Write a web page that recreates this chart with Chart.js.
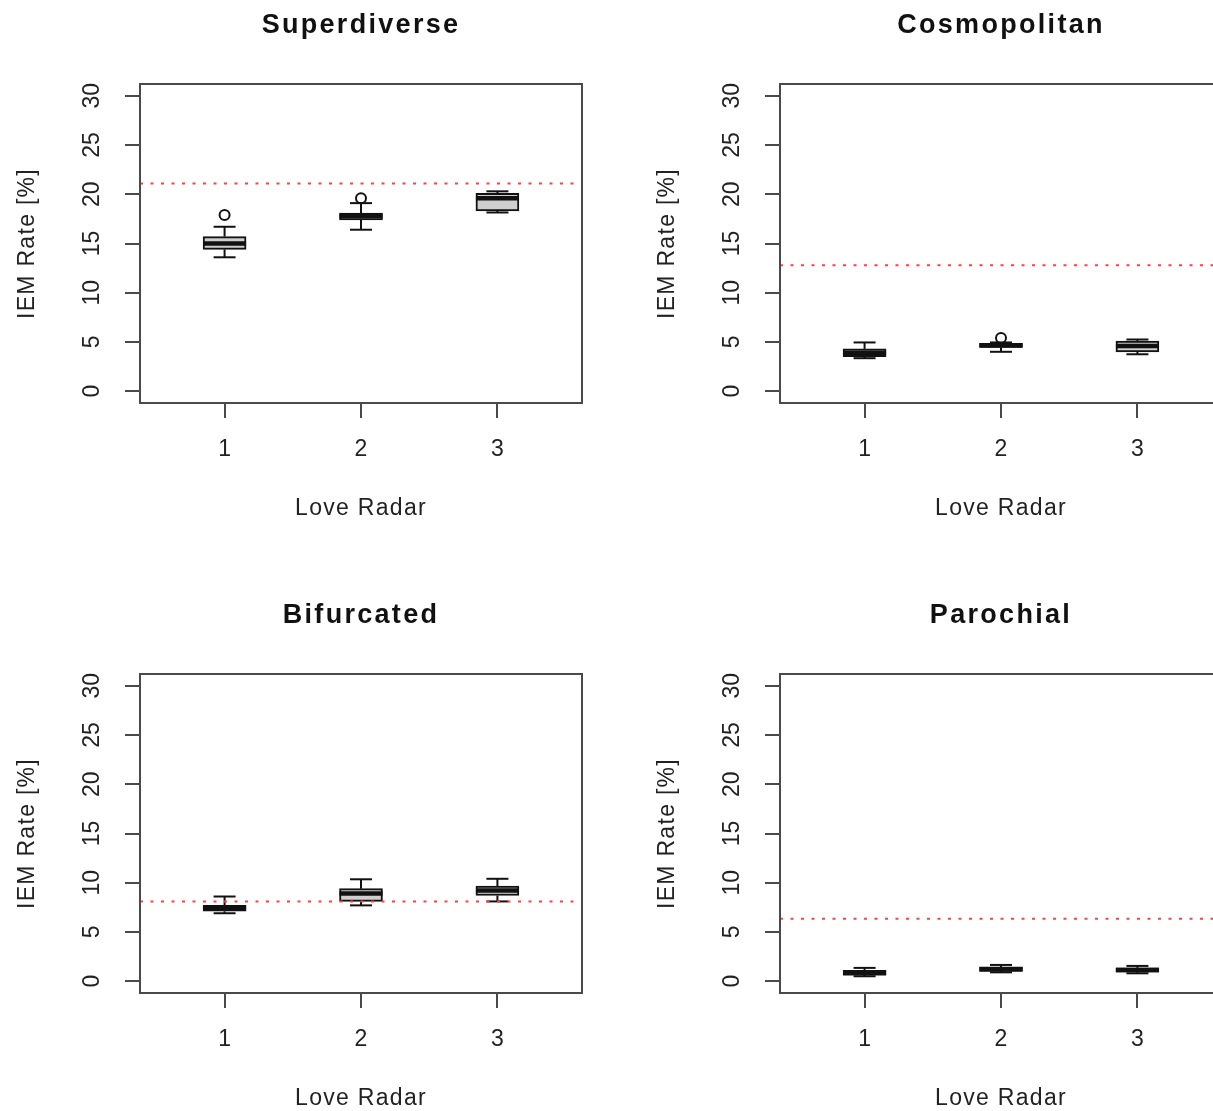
<!DOCTYPE html>
<html>
<head>
<meta charset="utf-8">
<script src="https://cdn.jsdelivr.net/npm/chart.js@4.4.1/dist/chart.umd.min.js"></script>
<style>
html,body{margin:0;padding:0;background:#fff;width:1213px;height:1111px;overflow:hidden;position:relative;}
canvas{position:absolute;}
</style>
</head>
<body>
<canvas id="p1" width="620" height="560" style="left:0px;top:0px"></canvas>
<canvas id="p2" width="620" height="560" style="left:640px;top:0px"></canvas>
<canvas id="p3" width="620" height="560" style="left:0px;top:590px"></canvas>
<canvas id="p4" width="620" height="560" style="left:640px;top:590px"></canvas>
<script>
// categories and ticks
const loveRadar=[1,2,3];
const yTicks=[0,5,10,15,20,25,30];
const xTitle="Love Radar";
const yTitle="IEM Rate [%]";

// Superdiverse
const superLow=[13.6,16.4,18.15];
const superQ1=[14.4,17.4,18.3];
const superMed=[15.0,17.8,19.6];
const superQ3=[15.7,18.1,20.1];
const superHigh=[16.7,19.1,20.3];
const superOut=[[17.9],[19.6],[]];
const superRef=21.1;

// Cosmopolitan
const cosmoLow=[3.35,4.0,3.75];
const cosmoQ1=[3.5,4.45,4.0];
const cosmoMed=[3.9,4.65,4.6];
const cosmoQ3=[4.3,4.85,5.1];
const cosmoHigh=[4.95,4.95,5.25];
const cosmoOut=[[],[5.4],[]];
const cosmoRef=12.8;

// Bifurcated
const bifLow=[6.9,7.7,8.1];
const bifQ1=[7.1,8.1,8.7];
const bifMed=[7.45,8.9,9.2];
const bifQ3=[7.7,9.4,9.65];
const bifHigh=[8.6,10.35,10.4];
const bifOut=[[],[],[]];
const bifRef=8.1;

// Parochial
const paroLow=[0.5,0.9,0.8];
const paroQ1=[0.65,1.0,0.92];
const paroMed=[0.8,1.22,1.13];
const paroQ3=[1.1,1.45,1.35];
const paroHigh=[1.35,1.65,1.55];
const paroOut=[[],[],[]];
const paroRef=6.35;

const panels=[
  {id:"p1",title:"Superdiverse",low:superLow,q1:superQ1,med:superMed,q3:superQ3,high:superHigh,out:superOut,ref:superRef},
  {id:"p2",title:"Cosmopolitan",low:cosmoLow,q1:cosmoQ1,med:cosmoMed,q3:cosmoQ3,high:cosmoHigh,out:cosmoOut,ref:cosmoRef},
  {id:"p3",title:"Bifurcated",low:bifLow,q1:bifQ1,med:bifMed,q3:bifQ3,high:bifHigh,out:bifOut,ref:bifRef},
  {id:"p4",title:"Parochial",low:paroLow,q1:paroQ1,med:paroMed,q3:paroQ3,high:paroHigh,out:paroOut,ref:paroRef}
];

const FONT="'Liberation Sans', Arial, Helvetica, sans-serif";
const BOXW=43, CAPW=22;

function seg(c,x1,y1,x2,y2){
  c.beginPath();c.moveTo(x1,y1);c.lineTo(x2,y2);c.stroke();
}

function makePanel(p){
  const parts={
    id:"boxParts",
    afterDatasetDraw(chart,args){
      if(args.index!==0) return;
      const x=chart.scales.x,y=chart.scales.y,c=chart.ctx;
      c.save();
      c.strokeStyle="#111";
      loveRadar.forEach((g,i)=>{
        const px=x.getPixelForValue(g);
        const yHi=y.getPixelForValue(p.high[i]),yLo=y.getPixelForValue(p.low[i]);
        c.lineWidth=2;
        seg(c,px,y.getPixelForValue(p.q3[i]),px,yHi);
        seg(c,px,y.getPixelForValue(p.q1[i]),px,yLo);
        seg(c,px-CAPW/2,yHi,px+CAPW/2,yHi);
        seg(c,px-CAPW/2,yLo,px+CAPW/2,yLo);
        c.lineWidth=4.5;
        const ym=y.getPixelForValue(p.med[i]);
        seg(c,px-BOXW/2,ym,px+BOXW/2,ym);
      });
      c.restore();
    },
    afterDraw(chart){
      const a=chart.chartArea,x=chart.scales.x,y=chart.scales.y,c=chart.ctx;
      c.save();
      // frame
      c.strokeStyle="#4a4a4a";c.lineWidth=2;
      c.strokeRect(a.left,a.top,a.right-a.left,a.bottom-a.top);
      c.fillStyle="#222";
      c.textAlign="center";c.textBaseline="middle";
      c.font="23px "+FONT;
      c.letterSpacing="0px";
      // x tick labels
      x.ticks.forEach(t=>{
        c.fillText(String(t.value),x.getPixelForValue(t.value),a.bottom+47);
      });
      // y tick labels, rotated
      y.ticks.forEach(t=>{
        c.save();
        c.translate(a.left-47,y.getPixelForValue(t.value));
        c.rotate(-Math.PI/2);
        c.fillText(String(t.value),0,0);
        c.restore();
      });
      c.letterSpacing="1.3px";
      c.fillText(xTitle,(a.left+a.right)/2,a.bottom+106);
      c.save();
      c.translate(a.left-112,(y.getPixelForValue(0)+y.getPixelForValue(30))/2);
      c.rotate(-Math.PI/2);
      c.fillText(yTitle,0,0);
      c.restore();
      // panel title
      c.fillStyle="#111";
      c.font="bold 27px "+FONT;
      c.letterSpacing="2.3px";
      c.fillText(p.title,(a.left+a.right)/2,26);
      c.restore();
    }
  };

  const outliers=[];
  p.out.forEach((vals,i)=>vals.forEach(v=>outliers.push({x:loveRadar[i],y:v})));

  new Chart(document.getElementById(p.id),{
    type:"bar",
    data:{
      datasets:[
        {
          type:"bar",
          data:loveRadar.map((g,i)=>({x:g,y:[p.q1[i],p.q3[i]]})),
          backgroundColor:"#cfcfcf",
          borderColor:"#111",
          borderWidth:2,
          borderSkipped:false,
          barThickness:BOXW,
          order:3
        },
        {
          type:"scatter",
          data:outliers,
          pointRadius:5,
          pointBorderWidth:2,
          pointBorderColor:"#111",
          pointBackgroundColor:"rgba(0,0,0,0)",
          order:2
        },
        {
          type:"line",
          data:[{x:0.38,y:p.ref},{x:3.62,y:p.ref}],
          borderColor:"#ff4040",
          borderWidth:2,
          borderDash:[3,7.5],
          pointRadius:0,
          fill:false,
          order:1
        }
      ]
    },
    options:{
      responsive:false,
      animation:false,
      devicePixelRatio:1,
      layout:{padding:{left:80,right:38,top:84,bottom:97}},
      plugins:{legend:{display:false},tooltip:{enabled:false}},
      scales:{
        x:{
          type:"linear",
          min:0.38,
          max:3.62,
          offset:false,
          afterBuildTicks:s=>{s.ticks=loveRadar.map(v=>({value:v}));},
          afterFit:s=>{s.height=60;},
          ticks:{display:false},
          border:{display:false},
          grid:{offset:false,drawOnChartArea:false,drawTicks:true,tickLength:15,color:"#4a4a4a",lineWidth:2}
        },
        y:{
          type:"linear",
          min:-1.2,
          max:31.2,
          afterBuildTicks:s=>{s.ticks=yTicks.map(v=>({value:v}));},
          afterFit:s=>{s.width=60;},
          ticks:{display:false},
          border:{display:false},
          grid:{drawOnChartArea:false,drawTicks:true,tickLength:15,color:"#4a4a4a",lineWidth:2}
        }
      }
    },
    plugins:[parts]
  });
}

panels.forEach(makePanel);
</script>
</body>
</html>
